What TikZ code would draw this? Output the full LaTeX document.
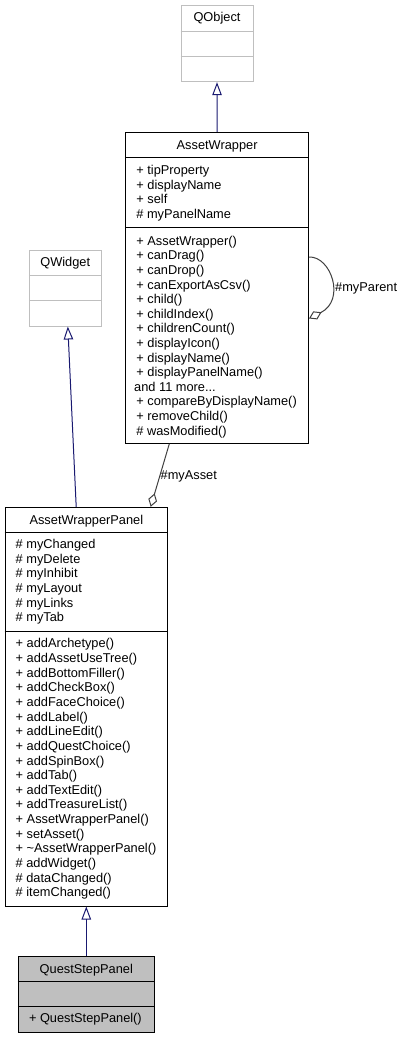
\documentclass[tikz,border=0pt]{standalone}
\usepackage{fontspec}
\setmainfont{Liberation Sans}
\usetikzlibrary{arrows.meta,calc}
\definecolor{extgray}{HTML}{BFBFBF}
\definecolor{inhnavy}{HTML}{191970}
\definecolor{assocgray}{HTML}{404040}
\begin{document}
\begin{tikzpicture}[x=1pt,y=-1pt,
  font=\fontsize{12.8}{14.6}\selectfont,
  classbox/.style={draw=black, line width=1pt, inner sep=0pt, fill=white},
  extbox/.style={draw=extgray, line width=1pt, inner sep=0pt, fill=white},
  curbox/.style={draw=black, line width=1pt, inner sep=0pt, fill=extgray},
  divider/.style={line width=1pt},
  extdivider/.style={line width=1pt, draw=extgray},
  member/.style={anchor=base west, inner sep=0pt},
  ctitle/.style={anchor=base, inner sep=0pt},
  inherit/.style={draw=inhnavy, line width=1pt, {Triangle[open, length=13pt, width=9.5pt]}-},
  assocline/.style={draw=assocgray, line width=1pt, {Diamond[open, length=14pt, width=9pt]}-},
  lbl/.style={anchor=base west, inner sep=0pt}
]
\useasboundingbox (0,0) rectangle (403,1039);

% ---------- QObject ----------
\node[extbox, minimum width=72pt, minimum height=76pt] (qobj) at (217,43.7) {};
\draw[extdivider] (qobj.west |- 0,31.7) -- (qobj.east |- 0,31.7);
\draw[extdivider] (qobj.west |- 0,56.7) -- (qobj.east |- 0,56.7);
\node[ctitle] (qobjt) at (217,21.8) {QObject};

% ---------- AssetWrapper ----------
\node[classbox, minimum width=182.8pt, minimum height=311pt] (aw) at (217.1,287.8) {};
\draw[divider] (aw.west |- 0,157.7) -- (aw.east |- 0,157.7);
\draw[divider] (aw.west |- 0,227) -- (aw.east |- 0,227);
\node[ctitle] (awt) at (217.1,149.5) {AssetWrapper};
\foreach \t [count=\i from 0] in {+ tipProperty, + displayName, + self, \# myPanelName}
  \node[member] (awa\i) at (136.2,{174.5+\i*14.6}) {\t};
\foreach \t [count=\i from 0] in {+ AssetWrapper(), + canDrag(), + canDrop(), + canExportAsCsv(), + child(), + childIndex(), + childrenCount(), + displayIcon(), + displayName(), + displayPanelName()}
  \node[member] (awm\i) at (136.2,{245.2+\i*14.6}) {\t};
\node[member] (awmore) at (134,{245.2+10*14.6}) {and 11 more...};
\foreach \t [count=\i from 11] in {+ compareByDisplayName(), + removeChild(), \# wasModified()}
  \node[member] (awm\i) at (136.2,{245.2+\i*14.6}) {\t};

% ---------- QWidget ----------
\node[extbox, minimum width=71.7pt, minimum height=76pt] (qw) at (65.2,288) {};
\draw[extdivider] (qw.west |- 0,275) -- (qw.east |- 0,275);
\draw[extdivider] (qw.west |- 0,300.7) -- (qw.east |- 0,300.7);
\node[ctitle] (qwt) at (65.2,266.2) {QWidget};

% ---------- AssetWrapperPanel ----------
\node[classbox, minimum width=162.7pt, minimum height=398.7pt] (awp) at (86.35,706.65) {};
\draw[divider] (awp.west |- 0,532.3) -- (awp.east |- 0,532.3);
\draw[divider] (awp.west |- 0,631) -- (awp.east |- 0,631);
\node[ctitle] (awpt) at (86.35,524.5) {AssetWrapperPanel};
\foreach \t [count=\i from 0] in {\# myChanged, \# myDelete, \# myInhibit, \# myLayout, \# myLinks, \# myTab}
  \node[member] (awpa\i) at (15.5,{548.5+\i*14.65}) {\t};
\foreach \t [count=\i from 0] in {+ addArchetype(), + addAssetUseTree(), + addBottomFiller(), + addCheckBox(), + addFaceChoice(), + addLabel(), + addLineEdit(), + addQuestChoice(), + addSpinBox(), + addTab(), + addTextEdit(), + addTreasureList(), + AssetWrapperPanel(), + setAsset(), + \textasciitilde AssetWrapperPanel(), \# addWidget(), \# dataChanged(), \# itemChanged()}
  \node[member] (awpm\i) at (15.5,{647.8+\i*14.65}) {\t};

% ---------- QuestStepPanel ----------
\node[curbox, minimum width=136pt, minimum height=76pt] (qsp) at (86.3,994.7) {};
\draw[divider] (qsp.west |- 0,981.7) -- (qsp.east |- 0,981.7);
\draw[divider] (qsp.west |- 0,1006.7) -- (qsp.east |- 0,1006.7);
\node[ctitle] (qspt) at (86.3,973.5) {QuestStepPanel};
\node[member] (qspm0) at (28.8,1022.5) {+ QuestStepPanel()};

% ---------- connectors ----------
\draw[inherit] (qobj.south) -- (aw.north);
\draw[inherit] ($(qw.south west)!0.536!(qw.south east)$) -- ($(awp.north west)!0.438!(awp.north east)$);
\draw[inherit] (awp.south -| qsp.north) -- (qsp.north);
\draw[assocline] ($(awp.north west)!0.893!(awp.north east)$) -- ($(aw.south west)!0.24!(aw.south east)$);
\draw[draw=assocgray, line width=1pt, -{Diamond[open, length=14pt, width=9pt]}]
  (aw.east |- 0,257) .. controls (331,256) and (346,300) .. (aw.east |- 0,318.5);
\node[lbl] (lparent) at (335,291.2) {\#myParent};
\node[lbl] (lasset) at (160.5,479.5) {\#myAsset};
\end{tikzpicture}
\end{document}
